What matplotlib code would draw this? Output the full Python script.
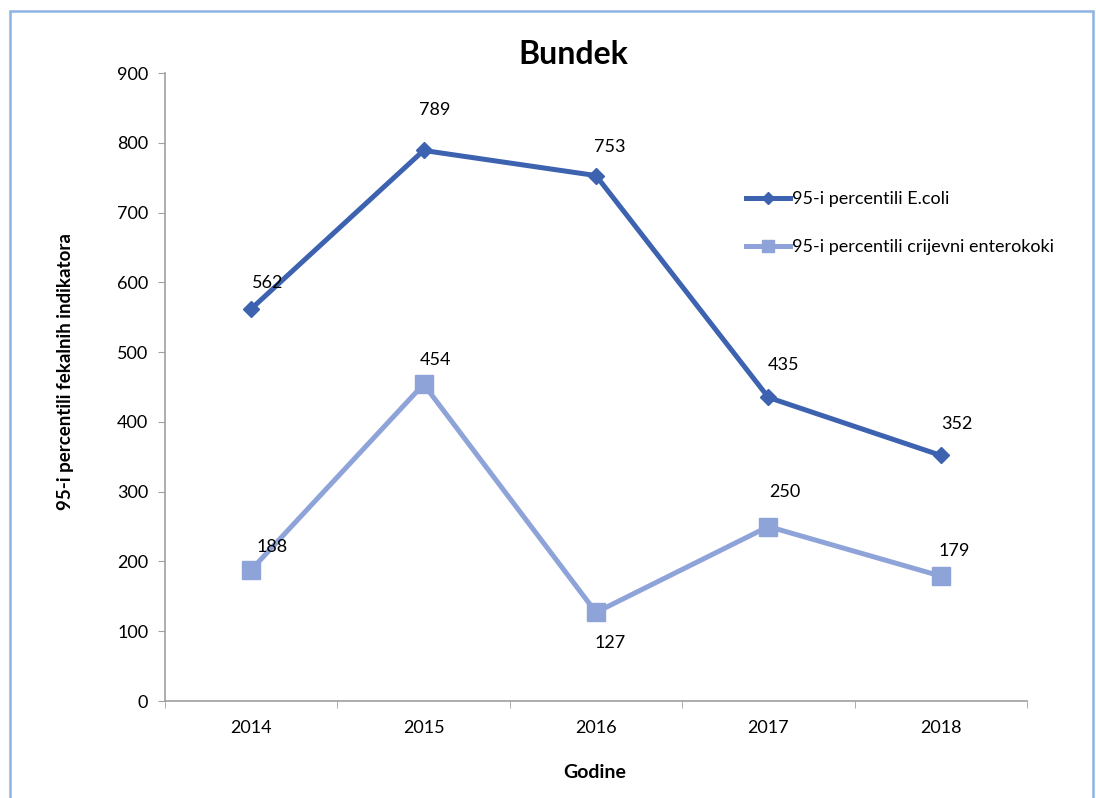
import matplotlib.pyplot as plt
from matplotlib.patches import Rectangle
from matplotlib.lines import Line2D

plt.rcParams['font.family'] = ['Lato', 'DejaVu Sans']

godine = ['2014', '2015', '2016', '2017', '2018']
ecoli = [562, 789, 753, 435, 352]
enterokoki = [188, 454, 127, 250, 179]

# label offsets in pixels (Excel puts them above-right, 2016 light one below)
ecoli_off = [(16, 26), (11, 40), (14, 29), (15, 32), (16, 31)]
entero_off = [(21, 23), (12, 24), (14, -31), (16, 35), (13, 25)]

dark = '#3D62B0'
light = '#8EA3D8'

fig = plt.figure(figsize=(10.96, 7.98), dpi=100)
ax = fig.add_axes([165 / 1096, 1 - 701 / 798, (1027 - 165) / 1096, (701 - 73) / 798])

x = range(len(godine))
ax.plot(x, ecoli, color=dark, lw=3.6, marker='D', markersize=8)
ax.plot(x, enterokoki, color=light, lw=3.6, marker='s', markersize=13)

for i, v in enumerate(ecoli):
    ax.annotate(str(v), (i, v), xytext=ecoli_off[i], textcoords='offset pixels',
                ha='center', va='center', fontsize=13, color='black')
for i, v in enumerate(enterokoki):
    ax.annotate(str(v), (i, v), xytext=entero_off[i], textcoords='offset pixels',
                ha='center', va='center', fontsize=13, color='black')

ax.set_xlim(-0.5, len(godine) - 0.5)
ax.set_ylim(0, 900)
ax.set_yticks(range(0, 901, 100))
ax.set_xticks(x)
ax.set_xticklabels(godine)
ax.set_xticks([i + 0.5 for i in range(-1, len(godine))], minor=True)
ax.tick_params(axis='x', which='major', length=0, pad=14, labelsize=13)
ax.tick_params(axis='x', which='minor', length=5, color='#A0A0A0')
ax.tick_params(axis='y', length=5, color='#A0A0A0', pad=7, labelsize=13)

for s in ['top', 'right']:
    ax.spines[s].set_visible(False)
for s in ['left', 'bottom']:
    ax.spines[s].set_color('#A0A0A0')
    ax.spines[s].set_linewidth(1.2)

fig.text(573 / 1096, 1 - 55 / 798, 'Bundek', ha='center', va='center',
         fontsize=23, fontweight='bold')
fig.text(595 / 1096, 1 - 773 / 798, 'Godine', ha='center', va='center',
         fontsize=14, fontweight='bold')
fig.text(66 / 1096, 1 - 372 / 798, '95-i percentili fekalnih indikatora',
         ha='center', va='center', rotation=90, fontsize=13.5, fontweight='bold')

handles = [Line2D([], [], color=dark, lw=3.6, marker='D', markersize=6),
           Line2D([], [], color=light, lw=3.6, marker='s', markersize=8)]
labels = ['95-i percentili E.coli', '95-i percentili crijevni enterokoki']
fig.legend(handles, labels, loc='upper left', bbox_to_anchor=(730 / 1096, 1 - 175 / 798),
           frameon=False, fontsize=13, handlelength=2.4, handletextpad=0.15,
           labelspacing=1.75)

fig.patches.append(Rectangle((10 / 1096, -0.02), (1093 - 10) / 1096, 1.02 - 11 / 798,
                             transform=fig.transFigure, fill=False,
                             edgecolor='#8DB3E2', lw=1.8))

fig.savefig('out.png', dpi=100)
